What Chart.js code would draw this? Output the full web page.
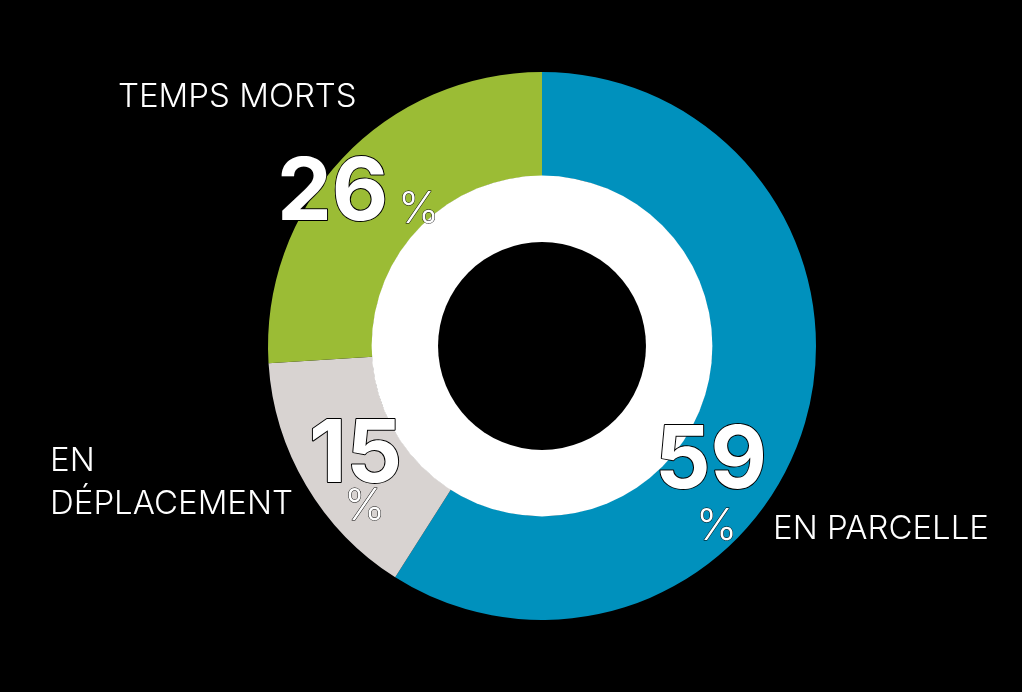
<!DOCTYPE html>
<html>
<head>
<meta charset="utf-8">
<script src="https://cdn.jsdelivr.net/npm/chart.js@4/dist/chart.umd.min.js"></script>
<style>
  html, body { margin: 0; padding: 0; background: #000; }
  #wrap { width: 1022px; height: 692px; }
</style>
</head>
<body>
<div id="wrap"><canvas id="c" width="1022" height="692"></canvas></div>
<script>
const LABELS = ['EN PARCELLE', 'EN DÉPLACEMENT', 'TEMPS MORTS'];
const VALUES = [59, 15, 26];
const COLORS = ['#0091bd', '#d8d3d1', '#9bbc35'];

// text placement per slice (annotations, not marks)
const TEXT_POS = [
  { name: [[773, 539]], num: [655, 488], pct: [696, 540] },
  { name: [[50, 471], [50, 514]], num: [309, 482], pct: [344, 520] },
  { name: [[118, 107]], num: [277, 220], pct: [398, 223] },
];
const NAME_LINES = [['EN PARCELLE'], ['EN', 'DÉPLACEMENT'], ['TEMPS MORTS']];

const ringPlugin = {
  id: 'ring',
  afterDatasetsDraw(chart) {
    const arc = chart.getDatasetMeta(0).data[0];
    const { x, y, innerRadius } = arc;
    const ctx = chart.ctx;
    ctx.save();
    ctx.fillStyle = '#fff';
    ctx.beginPath(); ctx.arc(x, y, innerRadius + 0.5, 0, Math.PI * 2); ctx.fill();
    ctx.fillStyle = '#000';
    ctx.beginPath(); ctx.arc(x, y, innerRadius * 0.612, 0, Math.PI * 2); ctx.fill();
    ctx.restore();
  },
  afterDraw(chart) {
    const ctx = chart.ctx;
    ctx.save();
    ctx.textBaseline = 'alphabetic';
    ctx.textAlign = 'left';
    VALUES.forEach((v, i) => {
      const p = TEXT_POS[i];
      // slice name
      ctx.fillStyle = '#fff';
      ctx.font = '300 33px Inter, "Noto Sans", sans-serif';
      NAME_LINES[i].forEach((t, k) => ctx.fillText(t, p.name[k][0], p.name[k][1]));
      // big number
      ctx.font = '700 87px Inter, "Liberation Sans", sans-serif';
      ctx.lineJoin = 'round';
      ctx.lineWidth = 2;
      ctx.strokeStyle = '#000';
      ctx.strokeText(String(v), p.num[0], p.num[1]);
      ctx.fillStyle = '#fff';
      ctx.fillText(String(v), p.num[0], p.num[1]);
      // percent sign
      ctx.font = '300 44px Inter, "Noto Sans", sans-serif';
      ctx.lineWidth = 1;
      ctx.strokeText('%', p.pct[0], p.pct[1]);
      ctx.fillText('%', p.pct[0], p.pct[1]);
    });
    ctx.restore();
  }
};

new Chart(document.getElementById('c'), {
  type: 'doughnut',
  data: {
    labels: LABELS,
    datasets: [{
      data: VALUES,
      backgroundColor: COLORS,
      borderWidth: 0,
    }],
  },
  options: {
    responsive: false,
    animation: false,
    cutout: '62%',
    layout: { padding: { top: 72, bottom: 72, left: 268, right: 206 } },
    plugins: {
      legend: { display: false },
      tooltip: { enabled: false },
    },
  },
  plugins: [ringPlugin],
});
</script>
</body>
</html>
